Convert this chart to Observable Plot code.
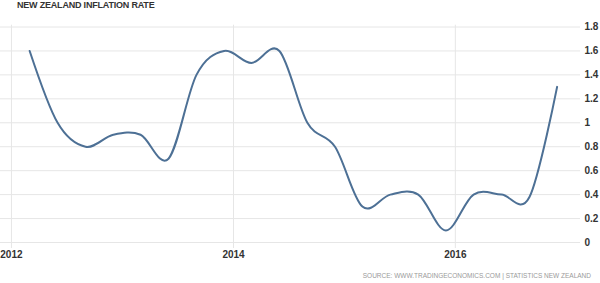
<!DOCTYPE html>
<html>
<head>
<meta charset="utf-8">
<script src="https://cdn.jsdelivr.net/npm/d3@7"></script>
<script src="https://cdn.jsdelivr.net/npm/@observablehq/plot@0.6"></script>
<style>
  html, body { margin: 0; padding: 0; background: #fff; }
  #wrap { position: relative; width: 600px; height: 283px; overflow: hidden; font-family: "Liberation Sans", Arial, sans-serif; }
  #title { position: absolute; left: 17px; top: 0px; font-size: 9px; font-weight: bold; color: #333; letter-spacing: -0.2px; line-height: 10px; white-space: nowrap; }
  #source { position: absolute; right: 9px; top: 272px; font-size: 6.5px; color: #9a9a9a; line-height: 8px; white-space: nowrap; }
  #chart { position: absolute; left: 0; top: 0; }
</style>
</head>
<body>
<div id="wrap">
  <div id="chart"></div>
  <div id="title">NEW ZEALAND INFLATION RATE</div>
  <div id="source">SOURCE: WWW.TRADINGECONOMICS.COM | STATISTICS NEW ZEALAND</div>
</div>
<script>
const dates = ["2012-03-01","2012-06-01","2012-09-01","2012-12-01",
               "2013-03-01","2013-06-01","2013-09-01","2013-12-01",
               "2014-03-01","2014-06-01","2014-09-01","2014-12-01",
               "2015-03-01","2015-06-01","2015-09-01","2015-12-01",
               "2016-03-01","2016-06-01","2016-09-01","2016-12-01"];
const values = [1.6, 1.0, 0.8, 0.9,
                0.9, 0.7, 1.4, 1.6,
                1.5, 1.6, 1.0, 0.8,
                0.3, 0.4, 0.4, 0.1,
                0.4, 0.4, 0.38, 1.3];
const xTickLabels = ["2012", "2014", "2016"];
const yTicks = [0, 0.2, 0.4, 0.6, 0.8, 1, 1.2, 1.4, 1.6, 1.8];

const data = dates.map((d, i) => ({date: new Date(d + "T00:00:00Z"), value: values[i]}));
const xTicks = xTickLabels.map(y => new Date(y + "-01-01T00:00:00Z"));

const chart = Plot.plot({
  width: 600,
  height: 283,
  marginLeft: 0,
  marginRight: 20,
  marginTop: 26.5,
  marginBottom: 41,
  style: {fontFamily: "'Liberation Sans', Arial, sans-serif", fontSize: "10px", color: "#333", background: "transparent"},
  x: {type: "utc", domain: [new Date("2011-11-26T00:00:00Z"), new Date("2017-02-16T00:00:00Z")]},
  y: {domain: [0, 1.8]},
  marks: [
    Plot.gridY(yTicks, {stroke: "#e6e6e6", strokeOpacity: 1, strokeWidth: 1}),
    Plot.gridX(xTicks, {stroke: "#e6e6e6", strokeOpacity: 1, strokeWidth: 1, y1: 1.815, y2: 0}),
    Plot.axisX(xTicks, {tickSize: 6, stroke: "#e6e6e6", tickPadding: 2, tickFormat: d3.utcFormat("%Y"), fill: "#333", fontWeight: "bold", label: null}),
    Plot.axisY(yTicks, {anchor: "right", tickSize: 0, tickPadding: 4, tickFormat: d => String(d), fill: "#333", fontWeight: "bold", label: null}),
    Plot.line(data, {x: "date", y: "value", curve: "cardinal", stroke: "#4d7095", strokeWidth: 2})
  ]
});
document.getElementById("chart").appendChild(chart);
</script>
</body>
</html>
